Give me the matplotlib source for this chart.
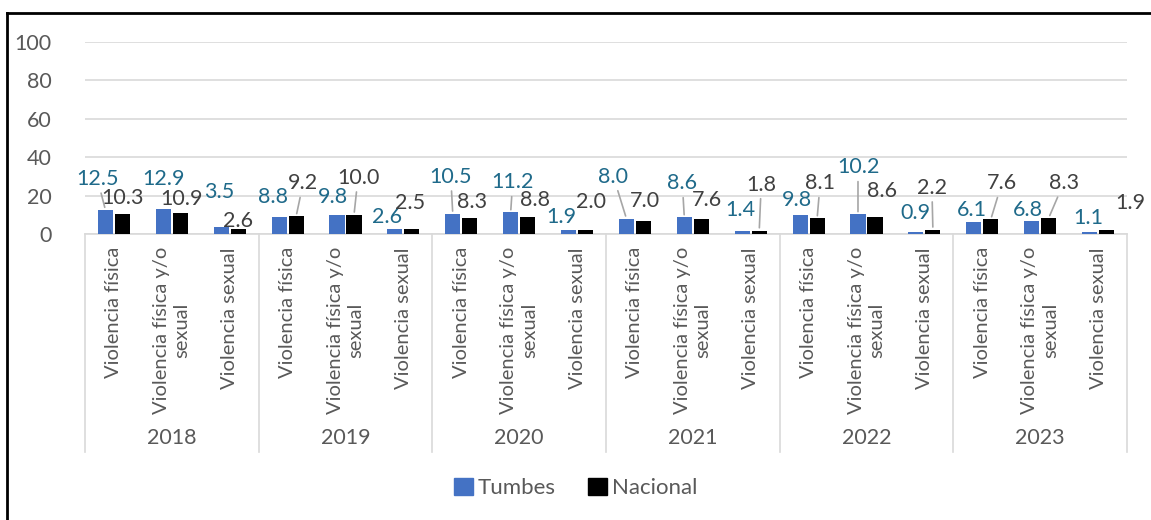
import numpy as np
import matplotlib
matplotlib.use("Agg")
from matplotlib import pyplot as plt
from matplotlib.patches import Patch
from matplotlib.lines import Line2D

plt.rcParams['font.family'] = ['Lato', 'DejaVu Sans']

years = ['2018', '2019', '2020', '2021', '2022', '2023']
categories = ['Violencia física', 'Violencia física y/o\nsexual', 'Violencia sexual']
tumbes = [12.5, 12.9, 3.5, 8.8, 9.8, 2.6, 10.5, 11.2, 1.9,
          8.0, 8.6, 1.4, 9.8, 10.2, 0.9, 6.1, 6.8, 1.1]
nacional = [10.3, 10.9, 2.6, 9.2, 10.0, 2.5, 8.3, 8.8, 2.0,
            7.0, 7.6, 1.8, 8.1, 8.6, 2.2, 7.6, 8.3, 1.9]

# label placement (pixels from bar top) and which labels get a leader line
off_t = [(-8, 31), (0, 30), (-2, 35), (-6, 20), (-4, 18), (-8, 12), (-2, 37), (2, 30), (-7, 13),
         (-13, 42), (-2, 34), (-2, 21), (-3, 15), (0, 47), (0, 19), (-2, 12), (-4, 11), (-1, 14)]
off_n = [(0, 16), (1, 14), (0, 8), (7, 33), (4, 37), (-2, 26), (2, 16), (7, 17), (5, 28),
         (1, 20), (6, 19), (2, 46), (3, 35), (7, 26), (-1, 42), (11, 36), (15, 35), (24, 27)]
lead_t = [0, 6, 7, 9, 10, 13]
lead_n = [3, 4, 11, 12, 14, 15, 16]

BLUE = '#4472C4'
TXT_T = '#1F6A8A'
TXT_N = '#404040'
GRAY = '#595959'
LINE = '#D9D9D9'
FS = 15.5

fig = plt.figure(figsize=(11.51, 5.2), dpi=100)
ax = fig.add_axes([85/1151, 1-234/520, (1127-85)/1151, 192/520])

n = len(tumbes)
x = np.arange(n)
w = 0.26
d = 0.147
ax.bar(x - d, tumbes, w, color=BLUE, zorder=3)
ax.bar(x + d, nacional, w, color='black', zorder=3)

ax.set_xlim(-0.5, n - 0.5)
ax.set_ylim(0, 100)
ax.set_yticks(range(0, 101, 20))
ax.tick_params(axis='y', length=0, pad=24, labelsize=FS, labelcolor=GRAY)
ax.set_xticks([])
ax.grid(axis='y', color=LINE, linewidth=1.2, zorder=0)
for s in ['top', 'right', 'left']:
    ax.spines[s].set_visible(False)
ax.spines['bottom'].set_color(LINE)
ax.spines['bottom'].set_linewidth(1.2)

def put_labels(vals, offs, leads, sign, color):
    for i, v in enumerate(vals):
        dx, dy = offs[i]
        ap = None
        if i in leads:
            ap = dict(arrowstyle='-', color='#A6A6A6', lw=1.2, shrinkA=1, shrinkB=2)
        ax.annotate(f'{v:.1f}', (i + sign * d, v), xytext=(dx, dy),
                    textcoords='offset pixels', ha='center', va='center',
                    fontsize=FS, color=color, arrowprops=ap, zorder=5,
                    annotation_clip=False)

put_labels(tumbes, off_t, lead_t, -1, TXT_T)
put_labels(nacional, off_n, lead_n, 1, TXT_N)

# category and year labels under the axis
trans = ax.get_xaxis_transform()
for i in range(n):
    ax.text(i, -0.068, categories[i % 3], rotation=90, ha='center', va='top',
            multialignment='center', fontsize=14.5, color=GRAY, transform=trans,
            linespacing=1.25)
for g, yr in enumerate(years):
    ax.text(g * 3 + 1, -1.0625, yr, ha='center', va='center', fontsize=FS,
            color=GRAY, transform=trans)
for g in range(len(years) + 1):
    ax.plot([g * 3 - 0.5, g * 3 - 0.5], [0, -1.135], color=LINE, lw=1.2,
            transform=trans, clip_on=False)

handles = [Patch(color=BLUE, label='Tumbes'), Patch(color='black', label='Nacional')]
fig.legend(handles=handles, loc='center', bbox_to_anchor=(0.5, 1-488/520), ncol=2,
           frameon=False, fontsize=16, handlelength=0.85, handleheight=0.85,
           handletextpad=0.2, columnspacing=1.5, labelcolor=GRAY)

# frame: left and top edges only
fx, fy = 7.5/1151, 1-12.5/520
fig.add_artist(Line2D([fx, fx], [0, fy], color='black', lw=2, transform=fig.transFigure))
fig.add_artist(Line2D([fx, 1], [fy, fy], color='black', lw=2, transform=fig.transFigure))

fig.savefig('out.png', dpi=100)
